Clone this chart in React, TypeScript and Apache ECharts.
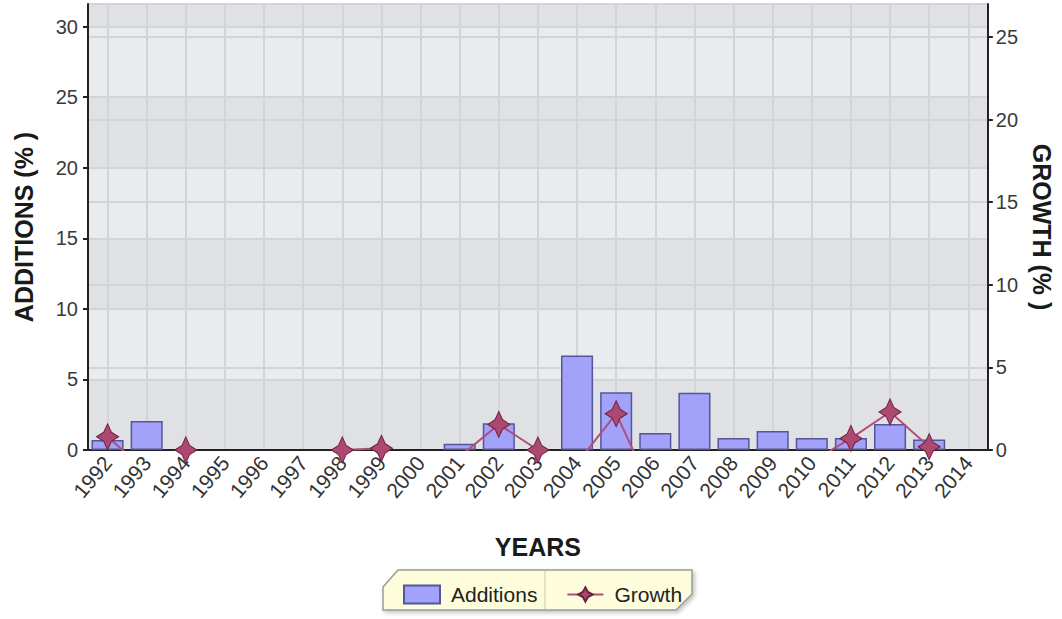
import React, { useEffect, useRef } from "react";
import * as echarts from "echarts";

const years = [
  "1992", "1993", "1994", "1995", "1996", "1997", "1998", "1999", "2000", "2001", "2002", "2003",
  "2004", "2005", "2006", "2007", "2008", "2009", "2010", "2011", "2012", "2013", "2014",
];

const additions = [
  0.7, 2.05, null, null, null, null, null, null, null, 0.45, 1.9, null,
  6.7, 4.1, 1.2, 4.05, 0.85, 1.35, 0.85, 0.85, 1.85, 0.75, null,
];

const growth = [
  0.8, -1.3, 0, null, null, null, 0, 0.1, null, -0.4, 1.55, 0,
  -0.8, 2.2, -2.9, null, null, null, -0.7, 0.7, 2.3, 0.2, null,
];

const leftTicks = { min: 0, max: 31.6, interval: 5 };
const rightTicks = { min: 0, max: 27, interval: 5 };

const FONT = "'Liberation Sans', Arial, sans-serif";
const STAR = "path://M0,-12 L4.2,-4.2 L12,0 L4.2,4.2 L0,12 L-4.2,4.2 L-12,0 L-4.2,-4.2 Z";

export default function App() {
  const ref = useRef<HTMLDivElement>(null);

  useEffect(() => {
    if (!ref.current) return;
    const chart = echarts.init(ref.current, null, { renderer: "svg" });
    const axisColor = "#222";
    const gridLine = { show: true, lineStyle: { color: "#d2d4d8", width: 2 } };
    chart.setOption({
      animation: false,
      textStyle: { fontFamily: FONT },
      grid: {
        left: 88,
        right: 71,
        top: 4,
        bottom: 169,
        show: true,
        backgroundColor: "#e6e8eb",
        borderColor: "#8a8a8a",
        borderWidth: 1,
      },
      xAxis: {
        type: "category",
        data: years,
        boundaryGap: true,
        name: "YEARS",
        nameLocation: "middle",
        nameGap: 84,
        nameTextStyle: { fontSize: 25, fontWeight: "bold", color: "#1a1a1a", fontFamily: FONT },
        axisLine: { lineStyle: { color: axisColor, width: 2 } },
        axisTick: { alignWithLabel: true, interval: 0, length: 6, lineStyle: { color: axisColor, width: 2 } },
        axisLabel: { rotate: 50, interval: 0, fontSize: 21, color: "#333", margin: 9, fontFamily: FONT },
        splitLine: { ...gridLine, interval: 0, alignWithLabel: true },
      },
      yAxis: [
        {
          type: "value",
          position: "left",
          ...leftTicks,
          name: "ADDITIONS (% )",
          nameLocation: "middle",
          nameRotate: 90,
          nameGap: 52,
          nameTextStyle: { fontSize: 25, fontWeight: "bold", color: "#1a1a1a", fontFamily: FONT },
          axisLine: { show: true, lineStyle: { color: axisColor, width: 2 } },
          axisTick: { show: true, length: 5, lineStyle: { color: axisColor, width: 2 } },
          axisLabel: { fontSize: 20, color: "#3a3a3a", margin: 10, showMaxLabel: false, fontFamily: FONT },
          splitLine: gridLine,
          splitArea: { show: true, areaStyle: { color: ["#dfe1e4", "#e9ebee"] } },
        },
        {
          type: "value",
          position: "right",
          ...rightTicks,
          name: "GROWTH (% )",
          nameLocation: "middle",
          nameRotate: -90,
          nameGap: 40,
          nameTextStyle: { fontSize: 25, fontWeight: "bold", color: "#1a1a1a", fontFamily: FONT },
          axisLine: { show: true, lineStyle: { color: axisColor, width: 2 } },
          axisTick: { show: true, length: 5, lineStyle: { color: axisColor, width: 2 } },
          axisLabel: { fontSize: 20, color: "#3a3a3a", margin: 8, showMaxLabel: false, fontFamily: FONT },
          splitLine: gridLine,
        },
      ],
      legend: {
        data: [{ name: "Additions", icon: "rect" }, { name: "Growth" }],
        left: 398,
        top: 579,
        itemWidth: 36,
        itemHeight: 18,
        itemGap: 29,
        z: 10,
        textStyle: { fontSize: 21, color: "#222", padding: [0, 0, 0, 6], fontFamily: FONT },
      },
      graphic: [
        {
          type: "polygon",
          z: 1,
          shape: {
            points: [
              [398, 570], [692, 570], [692, 594], [676, 610], [383, 610], [383, 587],
            ],
          },
          style: {
            fill: "#fdfddc",
            stroke: "#9a9a9a",
            lineWidth: 1.5,
            shadowBlur: 4,
            shadowOffsetX: 2,
            shadowOffsetY: 2,
            shadowColor: "rgba(0,0,0,0.25)",
          },
        },
        {
          type: "line",
          z: 2,
          shape: { x1: 545, y1: 571, x2: 545, y2: 609 },
          style: { stroke: "#c8c8b0", lineWidth: 1 },
        },
      ],
      series: [
        {
          name: "Additions",
          type: "bar",
          yAxisIndex: 0,
          data: additions,
          barWidth: "82%",
          itemStyle: { color: "#a2a2fa", borderColor: "#55559a", borderWidth: 1.5 },
          z: 2,
        },
        {
          name: "Growth",
          type: "line",
          yAxisIndex: 1,
          data: growth,
          clip: true,
          symbol: STAR,
          symbolSize: [22, 26],
          showAllSymbol: true,
          lineStyle: { color: "#b24f78", width: 2 },
          itemStyle: { color: "#ad4870", borderColor: "#6e2040", borderWidth: 1 },
          z: 3,
        },
      ],
    });
    return () => chart.dispose();
  }, []);

  return (
    <div
      ref={ref}
      style={{ position: "fixed", left: 0, top: 0, width: 1062, height: 619, background: "#fff" }}
    />
  );
}
